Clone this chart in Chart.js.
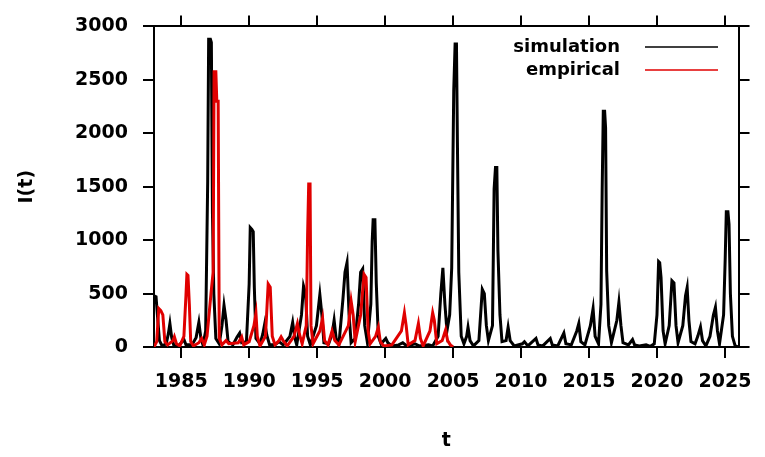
<!DOCTYPE html>
<html>
<head>
<meta charset="utf-8">
<script src="https://cdn.jsdelivr.net/npm/chart.js@4.4.1/dist/chart.umd.min.js"></script>
<style>
  body { margin: 0; background: #fff; }
  #wrap { width: 765px; height: 457px; }
</style>
</head>
<body>
<div id="wrap"><canvas id="chart" width="765" height="457"></canvas></div>
<script>
// simulation, I(t) against time t
const simT = [1983.0, 1983.15, 1983.25, 1983.4, 1983.6, 1983.9, 1984.05, 1984.17, 1984.3, 1984.45, 1984.8,
  1985.0, 1985.2, 1985.35, 1985.8, 1986.1, 1986.3, 1986.45, 1986.6, 1986.8, 1986.95, 1987.02, 1987.15, 1987.22,
  1987.3, 1987.4, 1987.55, 1987.8, 1988.0, 1988.15, 1988.3, 1988.45, 1988.8, 1989.1, 1989.3, 1989.45, 1989.8,
  1990.0, 1990.08, 1990.2, 1990.3, 1990.38, 1990.5, 1990.8, 1991.0, 1991.15, 1991.3, 1991.5, 1991.9, 1992.2, 1992.5,
  1993.0, 1993.2, 1993.35, 1993.5, 1993.85, 1994.0, 1994.15, 1994.3, 1994.5, 1994.95, 1995.2, 1995.35, 1995.5,
  1995.85, 1996.1, 1996.25, 1996.4, 1996.6, 1996.9, 1997.05, 1997.2, 1997.35, 1997.5, 1997.8, 1998.05, 1998.2,
  1998.35, 1998.5, 1998.7, 1998.95, 1999.05, 1999.12, 1999.25, 1999.35, 1999.5, 1999.7, 2000.05, 2000.2, 2000.5, 2001.0,
  2001.3, 2001.6, 2002.2, 2002.5, 2003.2, 2003.5, 2003.9, 2004.1, 2004.25, 2004.4, 2004.55, 2004.75, 2004.9,
  2005.05, 2005.15, 2005.25, 2005.32, 2005.42, 2005.6, 2005.8, 2006.0, 2006.1, 2006.25, 2006.5, 2006.9, 2007.15, 2007.3,
  2007.45, 2007.6, 2007.9, 2008.02, 2008.12, 2008.22, 2008.3, 2008.45, 2008.6, 2008.9, 2009.05, 2009.2, 2009.5, 2010.1,
  2010.25, 2010.5, 2011.1, 2011.25, 2011.6, 2012.15, 2012.3, 2012.7, 2013.15, 2013.3, 2013.7, 2014.1, 2014.25,
  2014.4, 2014.7, 2015.1, 2015.3, 2015.45, 2015.7, 2015.88, 2015.97, 2016.05, 2016.15, 2016.22, 2016.3, 2016.45, 2016.65,
  2017.05, 2017.2, 2017.35, 2017.5, 2017.9, 2018.2, 2018.35, 2018.7, 2019.2, 2019.5, 2019.8, 2020.0, 2020.12, 2020.2,
  2020.3, 2020.45, 2020.6, 2020.9, 2021.1, 2021.25, 2021.4, 2021.55, 2021.9, 2022.1, 2022.22, 2022.35, 2022.5,
  2022.8, 2023.0, 2023.2, 2023.35, 2023.6, 2023.9, 2024.15, 2024.3, 2024.45, 2024.6, 2024.9, 2025.02, 2025.1, 2025.22,
  2025.3, 2025.4, 2025.55, 2025.75, 2026.0];
const simI = [480, 470, 300, 60, 10, 30, 120, 220, 90, 20, 10,
  40, 70, 20, 20, 90, 230, 80, 20, 150, 1550, 2880, 2880, 2850,
  1250, 500, 80, 30, 200, 390, 250, 50, 20, 90, 130, 40, 50,
  590, 1117, 1100, 1080, 560, 80, 30, 120, 220, 110, 20, 20, 50, 20,
  100, 230, 90, 20, 300, 570, 500, 100, 20, 200, 490, 300, 40,
  30, 120, 250, 80, 20, 450, 700, 790, 300, 40, 80, 400, 700,
  730, 200, 40, 400, 990, 1190, 1190, 600, 100, 30, 80, 40, 10, 20,
  40, 10, 30, 10, 20, 10, 100, 500, 740, 400, 150, 300, 740,
  2400, 2835, 2835, 1910, 700, 100, 30, 100, 185, 60, 10, 60, 540, 500,
  200, 60, 200, 1480, 1680, 1680, 900, 300, 50, 60, 185, 60, 10, 30,
  50, 10, 80, 20, 10, 80, 20, 10, 130, 30, 20, 150, 220,
  50, 20, 200, 360, 100, 30, 400, 1480, 2205, 2205, 2050, 710, 200, 40,
  250, 418, 200, 40, 20, 70, 20, 10, 20, 5, 30, 300, 800, 790,
  650, 150, 30, 200, 620, 600, 200, 40, 200, 480, 557, 250, 50,
  30, 100, 187, 60, 10, 100, 300, 372, 150, 30, 300, 830, 1265, 1265,
  1150, 500, 100, 10, 0];

// empirical data
const empT = [1983.0, 1983.2, 1983.35, 1983.5, 1983.65, 1983.8, 1984.0, 1984.4, 1984.5, 1984.65, 1984.9,
  1985.2, 1985.35, 1985.42, 1985.5, 1985.6, 1985.7, 1985.9, 1986.3, 1986.5, 1986.7, 1986.9, 1987.2, 1987.35, 1987.42,
  1987.55, 1987.62, 1987.72, 1987.8, 1988.0, 1988.3, 1988.5, 1989.2, 1989.45, 1989.6, 1990.0, 1990.35, 1990.5, 1990.6,
  1990.8, 1991.2, 1991.4, 1991.55, 1991.7, 1991.9, 1992.2, 1992.35, 1992.5, 1992.8, 1993.3, 1993.55, 1993.7,
  1993.9, 1994.2, 1994.3, 1994.38, 1994.48, 1994.55, 1994.7, 1995.2, 1995.4, 1995.55, 1995.8, 1996.1, 1996.3, 1996.6,
  1997.3, 1997.5, 1997.65, 1997.8, 1998.2, 1998.45, 1998.6, 1998.75, 1998.9, 1999.3, 1999.5, 1999.65, 1999.9,
  2000.5, 2001.2, 2001.42, 2001.55, 2001.7, 2002.2, 2002.45, 2002.6, 2002.8, 2003.3, 2003.5, 2003.62, 2003.8,
  2004.2, 2004.45, 2004.6, 2004.8, 2005.0];
const empI = [0, 50, 360, 340, 300, 50, 20, 60, 95, 30, 10,
  100, 480, 680, 670, 400, 50, 10, 40, 80, 20, 100, 510, 700, 2575,
  2575, 2300, 2300, 80, 20, 60, 30, 40, 95, 20, 50, 200, 315, 100,
  10, 100, 590, 560, 100, 20, 60, 95, 60, 10, 100, 220, 120,
  30, 200, 1050, 1525, 1525, 200, 30, 150, 270, 60, 20, 150, 60, 20,
  200, 430, 300, 50, 300, 680, 650, 150, 30, 100, 185, 50, 10,
  20, 150, 320, 200, 20, 60, 220, 80, 10, 150, 320, 250, 30,
  60, 160, 60, 20, 0];

const xTicks = [1985, 1990, 1995, 2000, 2005, 2010, 2015, 2020, 2025];
const tMin = 1983, tMax = 2026;
const yMin = 0, yMax = 3000, yStep = 500;

const font = { family: 'DejaVu Sans', weight: 'bold', size: 19 };

function toPoints(ts, vs) {
  return ts.map((t, i) => ({ x: t, y: vs[i] }));
}

function setXTicks(scale) {
  scale.ticks = xTicks.map(v => ({ value: v }));
}

// gnuplot-like key: text first, then a short line sample
const keyPlugin = {
  id: 'key',
  afterDraw(chart) {
    const ctx = chart.ctx;
    ctx.save();
    ctx.font = 'bold 18px "DejaVu Sans"';
    ctx.textAlign = 'right';
    ctx.textBaseline = 'middle';
    chart.data.datasets.forEach((ds, i) => {
      const y = 47 + i * 23;
      ctx.fillStyle = '#000';
      ctx.fillText(ds.label, 620, y);
      ctx.strokeStyle = ds.borderColor;
      ctx.lineWidth = 1.5;
      ctx.beginPath();
      ctx.moveTo(645, y);
      ctx.lineTo(718, y);
      ctx.stroke();
    });
    ctx.restore();
  }
};

Chart.defaults.color = '#000';

const tickGrid = {
  drawOnChartArea: false,
  drawTicks: true,
  tickLength: 11,
  color: '#000',
  lineWidth: 2
};
const frame = { display: true, color: '#000', width: 2 };

new Chart(document.getElementById('chart'), {
  type: 'line',
  data: {
    datasets: [{
      label: 'simulation',
      data: toPoints(simT, simI),
      borderColor: '#000000',
      borderWidth: 3,
      order: 2
    }, {
      label: 'empirical',
      data: toPoints(empT, empI),
      borderColor: '#e00000',
      borderWidth: 3,
      order: 1
    }]
  },
  options: {
    responsive: false,
    animation: false,
    layout: { padding: 0 },
    elements: {
      point: { radius: 0 },
      line: { tension: 0, borderJoinStyle: 'miter' }
    },
    plugins: {
      legend: { display: false },
      tooltip: { enabled: false }
    },
    scales: {
      x: {
        type: 'linear',
        position: 'bottom',
        min: tMin,
        max: tMax,
        afterBuildTicks: setXTicks,
        afterFit: s => { s.height = 110; },
        grid: tickGrid,
        border: frame,
        ticks: { font: font, padding: 13, maxRotation: 0, callback: v => String(v) },
        title: { display: true, text: 't', font: font, padding: { bottom: 5 } }
      },
      x2: {
        type: 'linear',
        position: 'top',
        min: tMin,
        max: tMax,
        afterBuildTicks: setXTicks,
        afterFit: s => { s.height = 22; },
        grid: tickGrid,
        border: frame,
        ticks: { display: false }
      },
      y: {
        position: 'left',
        min: yMin,
        max: yMax,
        afterFit: s => { s.width = 154; },
        grid: tickGrid,
        border: frame,
        ticks: { font: font, padding: 15, stepSize: yStep, callback: v => String(v) },
        title: { display: true, text: 'I(t)', font: font, padding: { top: 16 } }
      },
      y2: {
        position: 'right',
        min: yMin,
        max: yMax,
        afterFit: s => { s.width = 18; },
        grid: tickGrid,
        border: frame,
        ticks: { display: false, stepSize: yStep }
      }
    }
  },
  plugins: [keyPlugin]
});
</script>
</body>
</html>
